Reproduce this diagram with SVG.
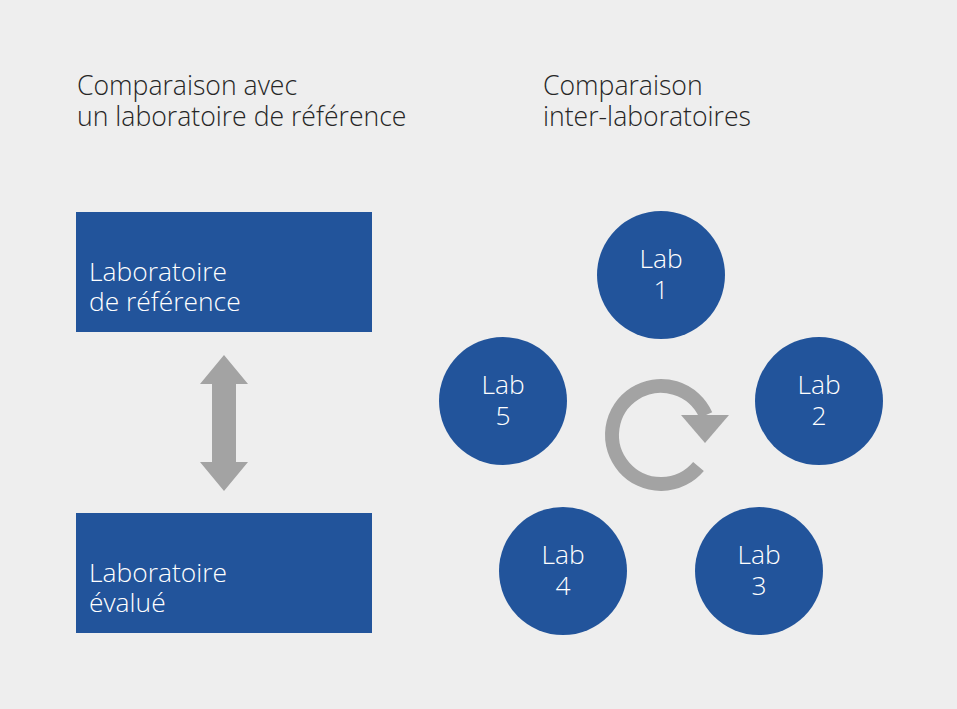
<svg xmlns="http://www.w3.org/2000/svg" width="957" height="709" viewBox="0 0 957 709">
<style>
.t{font-family:"Open Sans","Liberation Sans",sans-serif;font-weight:300;font-size:26.6px;fill:#262626}
.w{font-family:"Open Sans","Liberation Sans",sans-serif;font-weight:300;font-size:26.4px;fill:#ffffff}
.c{text-anchor:middle}
.box{fill:#22549b}
.g{fill:#a3a3a3}
</style>
<rect width="957" height="709" fill="#eeeeee"/>
<g id="title-left"><text class="t" x="77" y="95">Comparaison avec</text><text class="t" x="77" y="126">un laboratoire de référence</text></g>
<g id="title-right"><text class="t" x="543" y="95">Comparaison</text><text class="t" x="543" y="126">inter-laboratoires</text></g>
<g id="ref"><rect class="box" x="76" y="212" width="296" height="120"/><text class="w" x="89" y="281">Laboratoire</text><text class="w" x="89" y="311">de référence</text></g>
<g id="eval"><rect class="box" x="76" y="513" width="296" height="120"/><text class="w" x="89" y="582">Laboratoire</text><text class="w" x="89" y="612">évalué</text></g>
<g id="lab1"><circle class="box" cx="661" cy="275" r="64"/><text class="w c" x="661" y="268">Lab</text><text class="w c" x="661" y="299">1</text></g>
<g id="lab2"><circle class="box" cx="819" cy="401" r="64"/><text class="w c" x="819" y="394">Lab</text><text class="w c" x="819" y="425">2</text></g>
<g id="lab3"><circle class="box" cx="759" cy="571" r="64"/><text class="w c" x="759" y="564">Lab</text><text class="w c" x="759" y="595">3</text></g>
<g id="lab4"><circle class="box" cx="563" cy="571" r="64"/><text class="w c" x="563" y="564">Lab</text><text class="w c" x="563" y="595">4</text></g>
<g id="lab5"><circle class="box" cx="503" cy="401" r="64"/><text class="w c" x="503" y="394">Lab</text><text class="w c" x="503" y="425">5</text></g>
<g id="connectors">
<polygon class="g" points="224,355 248,384 236,384 236,462 248,462 224,491 200,462 212,462 212,384 200,384"/>
<path d="M698.5,466.5 A49,49 0 1 1 705.8,415.1" fill="none" stroke="#a3a3a3" stroke-width="14"/>
<polygon class="g" points="681,415 729,415 705,443"/>
</g>
</svg>
